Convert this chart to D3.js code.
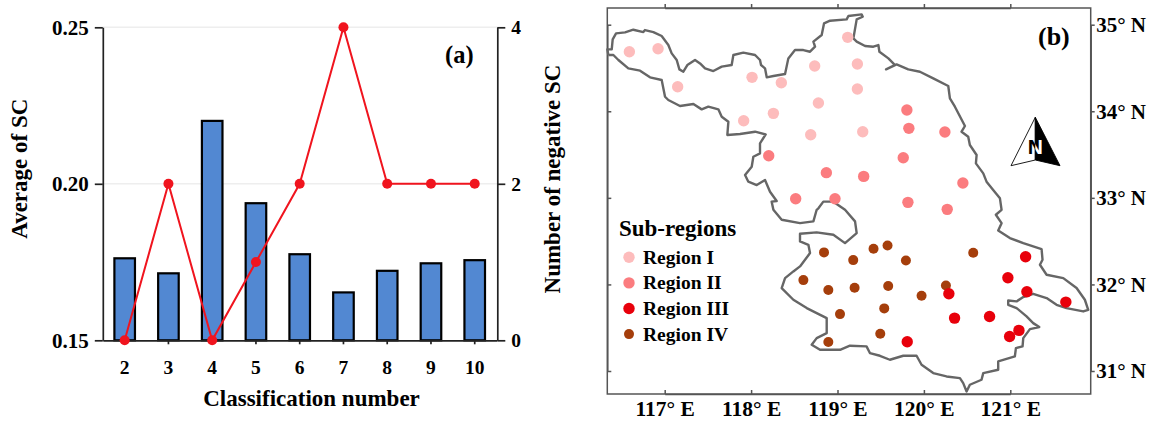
<!DOCTYPE html>
<html>
<head>
<meta charset="utf-8">
<script src="https://cdn.jsdelivr.net/npm/d3@7"></script>
<style>
html, body { margin: 0; padding: 0; background: #fff; }
text { font-family: "Liberation Serif", serif; font-weight: bold; fill: #000; }
</style>
</head>
<body>
<div id="chart"></div>
<script>
// panel (a)
var classNumbers = ["2", "3", "4", "5", "6", "7", "8", "9", "10"];
var averageSC = [0.1762, 0.1714, 0.2201, 0.1938, 0.1775, 0.1653, 0.1722, 0.1746, 0.1756];
var negativeSC = [0, 2, 0, 1, 2, 4, 2, 2, 2];
var leftTicks = [0.15, 0.20, 0.25];
var rightTicks = [0, 2, 4];

// panel (b), all [lon, lat]
var lonTicks = [117, 118, 119, 120, 121];
var latTicks = [31, 32, 33, 34, 35];
var regionNames = ["Region I", "Region II", "Region III", "Region IV"];
var regionColors = ["#fdbcbc", "#fb7c7f", "#e8000b", "#a53e0b"];
var regionI = [[116.591, 34.688], [116.923, 34.723], [117.150, 34.284], [118.011, 34.392], [118.350, 34.330],
    [117.914, 33.891], [118.258, 33.976], [118.779, 34.095], [118.690, 33.729], [119.292, 33.764],
    [119.230, 34.257], [118.736, 34.523], [119.230, 34.546], [119.118, 34.854]];
var regionII = [[118.204, 33.487], [118.871, 33.291], [119.303, 33.248], [118.516, 32.990], [118.971, 32.990],
    [119.803, 34.014], [119.826, 33.803], [120.243, 33.760], [119.761, 33.464], [120.451, 33.171],
    [119.815, 32.948], [120.270, 32.867]];
var regionIII = [[121.177, 32.320], [120.972, 32.077], [121.192, 31.915], [121.643, 31.796], [120.289, 31.892],
    [120.355, 31.611], [120.760, 31.630], [121.100, 31.469], [120.992, 31.399], [119.807, 31.338]];
var regionIV = [[120.571, 32.366], [119.579, 32.450], [119.417, 32.412], [119.792, 32.277], [119.182, 32.281],
    [119.198, 31.961], [119.587, 31.981], [120.255, 31.988], [119.973, 31.869], [119.541, 31.723],
    [119.495, 31.430], [118.844, 32.370], [118.605, 32.050], [118.894, 31.935], [119.029, 31.657], [118.894, 31.334]];
var outline = [[116.348, 34.650], [116.336, 34.715], [116.387, 34.715], [116.398, 34.831], [116.437, 34.900], [116.541, 34.911],
    [116.637, 34.942], [116.753, 34.915], [116.772, 34.938], [116.869, 34.915], [116.965, 34.869], [117.042, 34.765],
    [117.081, 34.669], [117.139, 34.592], [117.170, 34.484], [117.216, 34.457], [117.262, 34.534], [117.351, 34.592],
    [117.409, 34.553], [117.467, 34.496], [117.563, 34.465], [117.660, 34.515], [117.775, 34.534], [117.795, 34.650],
    [117.910, 34.677], [118.046, 34.650], [118.103, 34.592], [118.115, 34.534], [118.161, 34.496], [118.181, 34.392],
    [118.258, 34.407], [118.393, 34.430], [118.431, 34.611], [118.508, 34.707], [118.605, 34.707], [118.682, 34.688],
    [118.740, 34.746], [118.721, 34.804], [118.817, 34.881], [118.844, 35.015], [118.914, 35.046], [119.106, 35.062],
    [119.126, 35.100], [119.280, 35.119], [119.292, 35.092], [119.222, 35.062], [119.184, 34.842], [119.222, 34.804],
    [119.319, 34.754], [119.415, 34.746], [119.473, 34.765], [119.485, 34.688], [119.589, 34.611], [119.666, 34.534],
    [119.562, 34.484], [119.627, 34.515], [119.684, 34.542], [119.819, 34.484], [119.954, 34.457], [120.108, 34.380],
    [120.282, 34.292], [120.301, 34.149], [120.359, 34.053], [120.475, 33.830], [120.436, 33.764], [120.513, 33.706],
    [120.532, 33.610], [120.610, 33.495], [120.602, 33.398], [120.687, 33.283], [120.725, 33.187], [120.802, 33.090],
    [120.880, 32.994], [120.899, 32.862], [120.833, 32.805], [120.899, 32.708], [120.860, 32.624], [120.995, 32.535],
    [121.150, 32.477], [121.362, 32.408], [121.373, 32.285], [121.343, 32.227], [121.420, 32.112], [121.613, 32.073],
    [121.767, 31.958], [121.863, 31.823], [121.902, 31.707], [121.844, 31.688], [121.651, 31.727], [121.535, 31.765],
    [121.420, 31.842], [121.265, 31.892], [121.150, 31.854], [121.073, 31.804], [120.976, 31.815], [120.976, 31.765],
    [121.073, 31.727], [121.188, 31.630], [121.265, 31.553], [121.335, 31.507], [121.227, 31.484], [121.150, 31.380],
    [121.142, 31.284], [121.065, 31.265], [121.053, 31.168], [120.860, 31.111], [120.860, 31.014], [120.687, 30.976],
    [120.667, 30.899], [120.532, 30.841], [120.494, 30.764], [120.455, 30.860], [120.417, 30.918], [120.262, 30.937],
    [120.108, 30.976], [119.973, 31.072], [119.915, 31.176], [119.761, 31.176], [119.606, 31.130], [119.491, 31.176],
    [119.375, 31.207], [119.336, 31.284], [119.144, 31.292], [119.029, 31.245], [118.798, 31.245], [118.701, 31.303],
    [118.759, 31.380], [118.875, 31.438], [118.875, 31.611], [118.759, 31.669], [118.644, 31.727], [118.489, 31.823],
    [118.354, 31.958], [118.393, 32.073], [118.489, 32.150], [118.566, 32.208], [118.682, 32.362], [118.663, 32.458],
    [118.566, 32.497], [118.566, 32.585], [118.759, 32.601], [118.952, 32.574], [119.087, 32.477], [119.222, 32.593],
    [119.203, 32.728], [119.087, 32.862], [118.952, 32.956], [118.836, 32.956], [118.779, 32.879], [118.759, 32.862],
    [118.721, 32.728], [118.566, 32.708], [118.354, 32.747], [118.258, 32.862], [118.238, 32.956], [118.296, 32.963],
    [118.219, 33.071], [118.161, 33.206], [118.065, 33.148], [117.968, 33.187], [117.930, 33.264], [118.007, 33.360],
    [118.026, 33.475], [118.103, 33.514], [118.103, 33.629], [118.169, 33.733], [118.046, 33.764], [117.872, 33.737],
    [117.725, 33.726], [117.737, 33.880], [117.660, 33.937], [117.621, 34.022], [117.505, 34.053], [117.428, 34.022],
    [117.332, 34.084], [117.177, 34.061], [117.042, 34.130], [117.004, 34.168], [116.965, 34.361], [116.830, 34.392],
    [116.715, 34.469], [116.579, 34.496], [116.464, 34.592], [116.406, 34.650], [116.348, 34.650]];

var width = 1151, height = 421;

var svg = d3.select("#chart").append("svg")
    .attr("width", width)
    .attr("height", height)
    .style("display", "block");

// ---- panel (a) ----
var x = d3.scaleBand().domain(classNumbers).range([102.8, 496.6]).paddingInner(0.53).paddingOuter(0.265),
    yLeft = d3.scaleLinear().domain([0.15, 0.25]).range([340.3, 27.3]),
    yRight = d3.scaleLinear().domain([0, 4]).range([340.3, 27.3]);

var a = svg.append("g").attr("class", "panel-a");

a.selectAll(".grid")
    .data([0.20, 0.25])
  .enter().append("line")
    .attr("class", "grid")
    .attr("x1", 102.8).attr("x2", 497.3)
    .attr("y1", d => yLeft(d)).attr("y2", d => yLeft(d))
    .style("stroke", "#eeeeee")
    .style("stroke-width", 1.5);

a.selectAll(".bar")
    .data(averageSC)
  .enter().append("rect")
    .attr("class", "bar")
    .attr("x", (d, i) => x(classNumbers[i]))
    .attr("y", d => yLeft(d))
    .attr("width", x.bandwidth())
    .attr("height", d => yLeft(0.15) - yLeft(d))
    .style("fill", "#5288d2")
    .style("stroke", "#000")
    .style("stroke-width", 2.2);

function styleAxis(g, color, w, size) {
    g.select(".domain").style("stroke", color).style("stroke-width", w);
    g.selectAll(".tick line").style("stroke", color).style("stroke-width", w);
    g.selectAll(".tick text").style("font-size", size + "px");
}

a.append("g")
    .attr("transform", "translate(102.8,0)")
    .call(d3.axisLeft(yLeft).tickValues(leftTicks).tickFormat(d3.format(".2f")).tickSize(8).tickSizeOuter(0).tickPadding(6))
    .call(styleAxis, "#222", 1.7, 21);

a.append("g")
    .attr("transform", "translate(497.3,0)")
    .call(d3.axisRight(yRight).tickValues(rightTicks).tickFormat(d3.format("d")).tickSize(8).tickSizeOuter(0).tickPadding(6))
    .call(styleAxis, "#222", 1.7, 19.5);

a.append("g")
    .attr("transform", "translate(0,340.3)")
    .call(d3.axisBottom(x).tickSize(4).tickSizeOuter(0).tickPadding(16))
    .call(styleAxis, "#222", 1.7, 19.5);

var line = d3.line()
    .x((d, i) => x(classNumbers[i]) + x.bandwidth() / 2)
    .y(d => yRight(d));

a.append("path")
    .attr("d", line(negativeSC))
    .style("fill", "none")
    .style("stroke", "#f0141e")
    .style("stroke-width", 2);

a.selectAll(".dot")
    .data(negativeSC)
  .enter().append("circle")
    .attr("class", "dot")
    .attr("cx", (d, i) => x(classNumbers[i]) + x.bandwidth() / 2)
    .attr("cy", d => yRight(d))
    .attr("r", 5)
    .style("fill", "#f0141e");

a.append("text").attr("x", 445).attr("y", 63).style("font-size", "24.5px").text("(a)");
a.append("text").attr("x", 311.5).attr("y", 406).attr("text-anchor", "middle")
    .style("font-size", "23px").text("Classification number");
a.append("text").attr("transform", "translate(27,168.7) rotate(-90)").attr("text-anchor", "middle")
    .style("font-size", "23px").text("Average of SC");
a.append("text").attr("transform", "translate(560,179) rotate(-90)").attr("text-anchor", "middle")
    .style("font-size", "23px").text("Number of negative SC");

// ---- panel (b) ----
var lon = d3.scaleLinear().domain([117, 121]).range([664.7, 1010.3]),
    lat = d3.scaleLinear().domain([35, 31]).range([24.7, 371]);

var frame = { left: 607.3, right: 1090.7, top: 8, bottom: 394 };

var b = svg.append("g").attr("class", "panel-b");

var lonFmt = d => d + "° E", latFmt = d => d + "° N";

b.append("g").attr("transform", "translate(0," + frame.bottom + ")")
    .call(d3.axisBottom(lon).tickValues(lonTicks).tickFormat(lonFmt).tickSize(-4).tickSizeOuter(0).tickPadding(7))
    .call(styleAxis, "#555", 1.5, 21.5);
b.append("g").attr("transform", "translate(0," + frame.top + ")")
    .call(d3.axisTop(lon).tickValues(lonTicks).tickFormat("").tickSize(4).tickSizeOuter(0))
    .call(styleAxis, "#555", 1.5, 21.5);
b.append("g").attr("transform", "translate(" + frame.left + ",0)")
    .call(d3.axisLeft(lat).tickValues(latTicks).tickFormat("").tickSize(-4).tickSizeOuter(0))
    .call(styleAxis, "#555", 1.5, 21.5);
b.append("g").attr("transform", "translate(" + frame.right + ",0)")
    .call(d3.axisRight(lat).tickValues(latTicks).tickFormat(latFmt).tickSize(4).tickSizeOuter(0).tickPadding(1.5))
    .call(styleAxis, "#555", 1.5, 21);

b.append("rect")
    .attr("x", frame.left).attr("y", frame.top)
    .attr("width", frame.right - frame.left).attr("height", frame.bottom - frame.top)
    .style("fill", "none").style("stroke", "#555").style("stroke-width", 1.5);

var outlinePath = d3.line().x(d => lon(d[0])).y(d => lat(d[1]));

b.append("path")
    .attr("d", outlinePath(outline))
    .style("fill", "none")
    .style("stroke", "#666")
    .style("stroke-width", 2.4)
    .style("stroke-linejoin", "round");

[regionI, regionII, regionIV, regionIII].forEach(function (pts) {
    var k = [regionI, regionII, regionIII, regionIV].indexOf(pts);
    b.selectAll(".r" + k)
        .data(pts)
      .enter().append("circle")
        .attr("class", "r" + k)
        .attr("cx", d => lon(d[0]))
        .attr("cy", d => lat(d[1]))
        .attr("r", k === 3 ? 5 : 5.7)
        .style("fill", regionColors[k]);
});

// legend
b.append("text").attr("x", 619).attr("y", 236).style("font-size", "23px").text("Sub-regions");
var legend = b.selectAll(".legend")
    .data(regionNames)
  .enter().append("g")
    .attr("class", "legend")
    .attr("transform", (d, i) => "translate(629," + (257.3 + i * 25.6) + ")");
legend.append("circle")
    .attr("r", (d, i) => i === 3 ? 5 : 5.7)
    .style("fill", (d, i) => regionColors[i]);
legend.append("text").attr("x", 14).attr("y", 6.5).style("font-size", "19.5px").text(d => d);

// north arrow
var arrow = b.append("g").attr("transform", "translate(1035.3,117.3)");
arrow.append("path").attr("d", "M0,0L-24.3,48.4L0,42.7Z")
    .style("fill", "#fff").style("stroke", "#000").style("stroke-width", 0.9);
arrow.append("path").attr("d", "M0,0L24.7,48.4L0,42.7Z")
    .style("fill", "#000").style("stroke", "#000").style("stroke-width", 0.9);
svg.append("clipPath").attr("id", "nLeft").append("rect").attr("x", -20).attr("y", 15).attr("width", 20).attr("height", 30);
svg.append("clipPath").attr("id", "nRight").append("rect").attr("x", 0).attr("y", 15).attr("width", 20).attr("height", 30);
arrow.append("text").attr("text-anchor", "middle").attr("y", 37).attr("clip-path", "url(#nLeft)")
    .style("font-family", "'Liberation Sans', sans-serif").style("font-size", "21px").text("N");
arrow.append("text").attr("text-anchor", "middle").attr("y", 37).attr("clip-path", "url(#nRight)")
    .style("font-family", "'Liberation Sans', sans-serif").style("font-size", "21px").style("fill", "#fff").text("N");

b.append("text").attr("x", 1038).attr("y", 45).style("font-size", "26px").text("(b)");
</script>
</body>
</html>
